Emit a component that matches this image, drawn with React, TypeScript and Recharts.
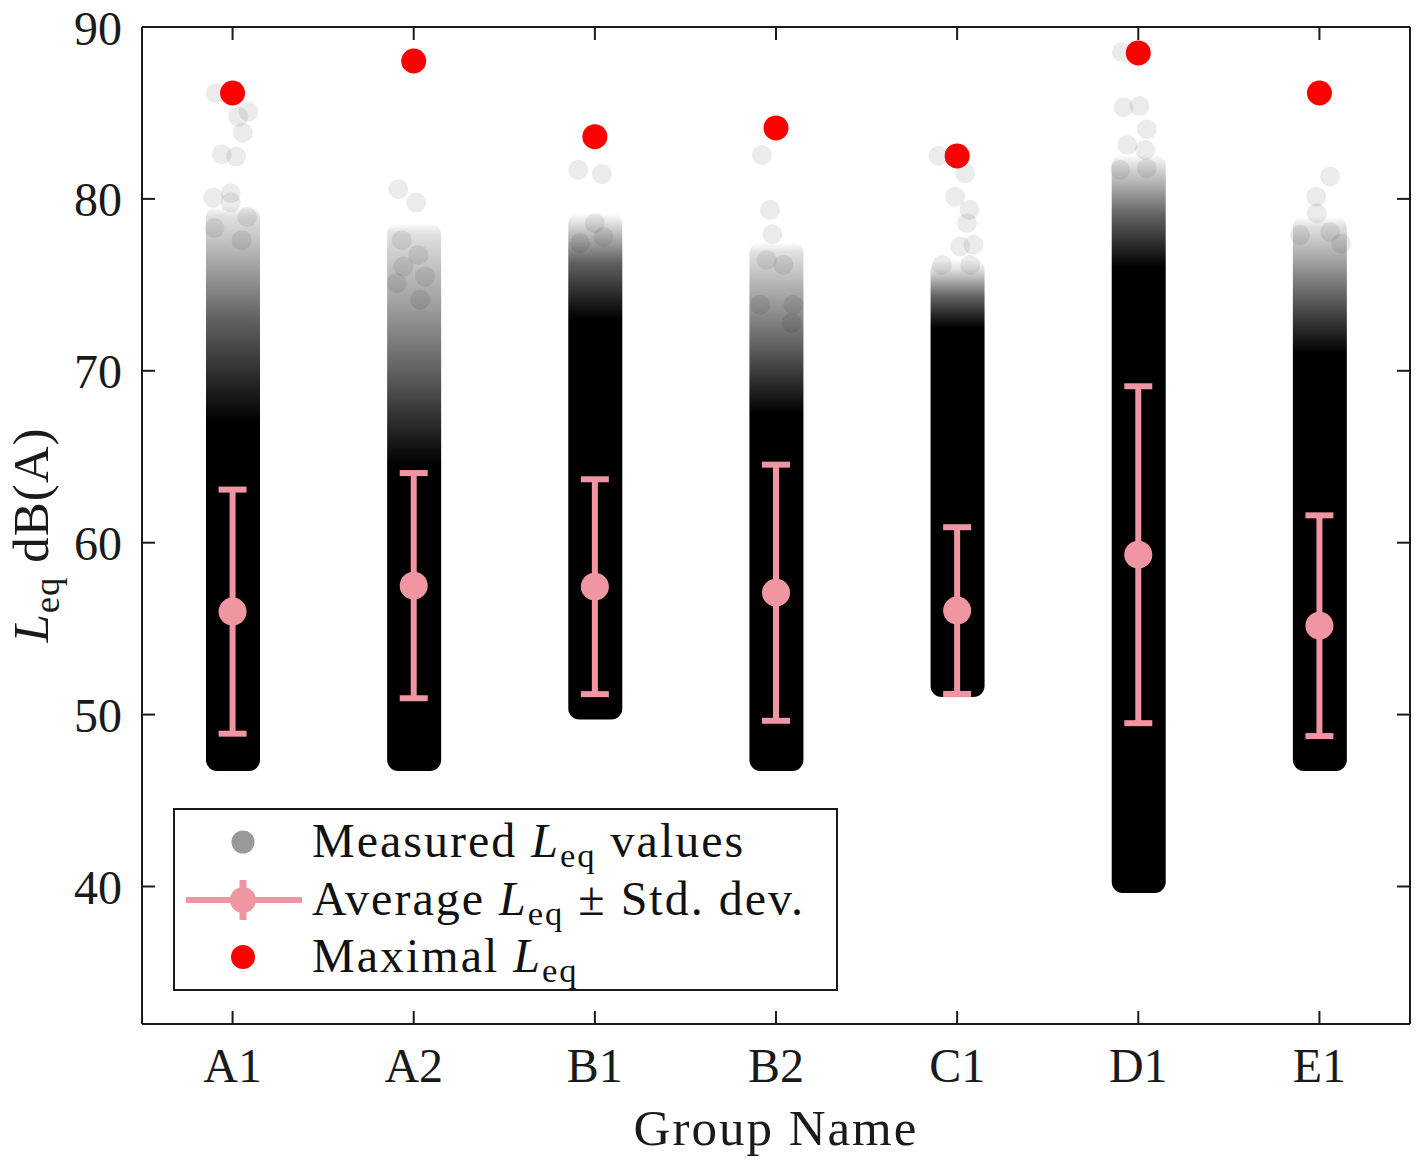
import React from 'react'
import {
  ComposedChart,
  Bar,
  Scatter,
  ErrorBar,
  XAxis,
  YAxis,
  Legend,
} from 'recharts'

// groups on the x axis
const groups = ['A1', 'A2', 'B1', 'B2', 'C1', 'D1', 'E1']

// average Leq and standard deviation per group
const meanLeq = [55.99, 57.5, 57.44, 57.09, 56.05, 59.3, 55.17]
const stdLeq = [7.1, 6.55, 6.25, 7.45, 4.85, 9.8, 6.42]

// maximal Leq per group
const maxLeq = [86.16, 88.02, 83.62, 84.13, 82.5, 88.49, 86.16]

// dense part of the measured clouds: lowest value, where it starts to show,
// where it is half dark, where it is fully dark
const cloudMin = [47.3, 47.3, 50.3, 47.3, 51.6, 40.2, 47.3]
const cloudTop = [79.0, 78.0, 78.6, 76.9, 75.9, 82.0, 78.4]
const cloudHalf = [73.0, 70.0, 76.3, 71.5, 74.3, 79.0, 74.3]
const cloudSolid = [67.0, 64.5, 73.0, 67.5, 72.5, 76.0, 71.0]

// sparse measured values above the dense cloud: [jitter, Leq]
const outA1 = [
  [-0.092, 86.15], [0.087, 85.08], [0.031, 84.78], [0.056, 83.85],
  [-0.06, 82.6], [0.019, 82.46], [-0.107, 80.08], [-0.01, 80.33],
  [-0.01, 79.8], [0.081, 78.94], [-0.1, 78.3], [0.05, 77.6],
]
const outA2 = [
  [-0.085, 80.56], [0.013, 79.79], [-0.066, 77.6], [0.025, 76.74],
  [-0.057, 76.06], [0.062, 75.48], [-0.094, 75.1], [0.035, 74.13],
]
const outB1 = [
  [-0.091, 81.69], [0.038, 81.45], [0.0, 78.59], [0.047, 77.8],
  [-0.082, 77.42],
]
const outB2 = [
  [-0.078, 82.56], [-0.033, 79.36], [-0.02, 77.95], [-0.051, 76.45],
  [0.041, 76.16], [-0.088, 73.84], [0.096, 73.84], [0.087, 72.77],
]
const outC1 = [
  [-0.103, 82.5], [0.044, 81.49], [-0.011, 80.13], [0.068, 79.36],
  [0.054, 78.59], [0.09, 77.33], [0.017, 77.23], [-0.084, 76.16],
  [0.072, 76.16],
]
const outD1 = [
  [-0.091, 88.53], [-0.082, 85.33], [0.007, 85.4], [0.047, 84.05],
  [-0.06, 83.14], [0.038, 82.85], [-0.1, 81.69], [0.047, 81.78],
]
const outE1 = [
  [0.059, 81.3], [-0.018, 80.13], [-0.014, 79.17], [0.059, 78.08],
  [-0.107, 77.9], [0.12, 77.4],
]

const yTicks = [40, 50, 60, 70, 80, 90]

const rows = groups.map((name, i) => ({
  name,
  mean: meanLeq[i],
  std: stdLeq[i],
  max: maxLeq[i],
  min: cloudMin[i],
  top: cloudTop[i],
  half: cloudHalf[i],
  solid: cloudSolid[i],
}))

const outliers = [outA1, outA2, outB1, outB2, outC1, outD1, outE1].flatMap(
  (list, i) => list.map(([dx, y]) => ({ x: i + 1 + dx, y }))
)
const groupPos = groups.map((_, i) => i + 1)

const FONT = "'Liberation Serif', 'DejaVu Serif', serif"
const INK = '#1a1a1a'
const PINK = '#EF96A2'
const RED = '#FF0000'

const CloudShape = (props: any) => {
  const { x, y, width, height, payload, index } = props
  const pad = 10
  const y0 = y - pad
  const h = height + pad * 2
  const at = (v: number) =>
    (y + (height * (payload.top - v)) / (payload.top - payload.min) - y0) / h
  const id = `cloud-${index}`
  return (
    <g>
      <defs>
        <linearGradient id={id} x1="0" y1="0" x2="0" y2="1">
          <stop offset={0} stopColor="#000" stopOpacity={0} />
          <stop offset={at(payload.top)} stopColor="#000" stopOpacity={0.12} />
          <stop offset={at(payload.half)} stopColor="#000" stopOpacity={0.62} />
          <stop offset={at(payload.solid)} stopColor="#000" stopOpacity={1} />
          <stop offset={1} stopColor="#000" stopOpacity={1} />
        </linearGradient>
      </defs>
      <rect x={x} y={y0} width={width} height={h} rx={11} fill={`url(#${id})`} />
    </g>
  )
}

const NoLabel = () => <g />

const Leq = ({ size }: { size: number }) => (
  <>
    <tspan fontStyle="italic">L</tspan>
    <tspan dy={size * 0.21} fontSize={size * 0.72}>eq</tspan>
    <tspan dy={-size * 0.21}> </tspan>
  </>
)

const LegendBox = () => (
  <svg width={665} height={183} style={{ display: 'block' }}>
    <rect x={1} y={1} width={663} height={181} fill="#fff" stroke={INK} strokeWidth={2} />
    <g fontFamily={FONT} fontSize={48} fill="#111" letterSpacing={2}>
      <circle cx={70} cy={34} r={11.5} fill="#999999" />
      <text x={139} y={49}>
        Measured <Leq size={48} />values
      </text>
      <line x1={13} x2={129} y1={92} y2={92} stroke={PINK} strokeWidth={6} />
      <line x1={70} x2={70} y1={72} y2={112} stroke={PINK} strokeWidth={7} />
      <circle cx={70} cy={92} r={13} fill={PINK} />
      <text x={139} y={107}>
        Average <Leq size={48} />± Std. dev.
      </text>
      <circle cx={70} cy={149} r={12} fill={RED} />
      <text x={139} y={164}>
        Maximal <Leq size={48} />
      </text>
    </g>
  </svg>
)

const YLabel = () => (
  <text
    x={48}
    y={535}
    transform="rotate(-90 48 535)"
    textAnchor="middle"
    fontFamily={FONT}
    fontSize={51}
    letterSpacing={1}
    fill={INK}
  >
    <Leq size={51} />dB(A)
  </text>
)

const XLabel = () => (
  <text
    x={776}
    y={1145}
    textAnchor="middle"
    fontFamily={FONT}
    fontSize={51}
    letterSpacing={2}
    fill={INK}
  >
    Group Name
  </text>
)

const tickStyle = { fill: INK, fontSize: 48, fontFamily: FONT }
const edge = { stroke: INK, strokeWidth: 2 }

export default function App() {
  return (
    <div style={{ position: 'absolute', left: 0, top: 0, width: 1418, height: 1162, background: '#fff' }}>
      <ComposedChart
        width={1418}
        height={1162}
        data={rows}
        margin={{ top: 27, right: 8, bottom: 78, left: 62 }}
      >
        <XAxis
          xAxisId="cat"
          dataKey="name"
          type="category"
          allowDuplicatedCategory={false}
          height={60}
          tickLine={false}
          tickSize={0}
          tickMargin={24}
          tick={tickStyle}
          axisLine={edge}
          label={<XLabel />}
        />
        <XAxis
          xAxisId="num"
          dataKey="x"
          type="number"
          domain={[0.5, 7.5]}
          allowDataOverflow
          hide
        />
        <XAxis
          xAxisId="tickBottom"
          dataKey="x"
          type="number"
          domain={[0.5, 7.5]}
          ticks={groupPos}
          allowDataOverflow
          mirror
          tick={<NoLabel />}
          tickSize={13}
          axisLine={false}
          tickLine={edge}
        />
        <XAxis
          xAxisId="tickTop"
          dataKey="x"
          orientation="top"
          type="number"
          domain={[0.5, 7.5]}
          ticks={groupPos}
          allowDataOverflow
          mirror
          tick={<NoLabel />}
          tickSize={13}
          axisLine={edge}
          tickLine={edge}
        />
        <YAxis
          yAxisId="y"
          type="number"
          domain={[32, 90]}
          ticks={yTicks}
          allowDataOverflow
          width={80}
          tickLine={false}
          tickSize={0}
          tickMargin={20}
          tick={tickStyle}
          axisLine={edge}
          label={<YLabel />}
        />
        <YAxis
          yAxisId="tickLeft"
          type="number"
          domain={[32, 90]}
          ticks={yTicks}
          allowDataOverflow
          mirror
          tick={<NoLabel />}
          tickSize={13}
          axisLine={false}
          tickLine={edge}
        />
        <YAxis
          yAxisId="tickRight"
          orientation="right"
          type="number"
          domain={[32, 90]}
          ticks={yTicks}
          allowDataOverflow
          mirror
          tick={<NoLabel />}
          tickSize={13}
          axisLine={edge}
          tickLine={edge}
        />

        <Bar
          xAxisId="cat"
          yAxisId="y"
          dataKey={(d: any) => [d.min, d.top]}
          barSize={54}
          shape={<CloudShape />}
          isAnimationActive={false}
          legendType="none"
        />
        <Scatter
          xAxisId="num"
          yAxisId="y"
          data={outliers}
          dataKey="y"
          isAnimationActive={false}
          legendType="none"
          shape={(p: any) => (
            <circle cx={p.cx} cy={p.cy} r={10} fill="#000" fillOpacity={0.08} />
          )}
        />
        <Scatter
          xAxisId="cat"
          yAxisId="y"
          data={rows}
          dataKey="mean"
          name="Average"
          isAnimationActive={false}
          shape={(p: any) => <circle cx={p.cx} cy={p.cy} r={14} fill={PINK} />}
        >
          <ErrorBar dataKey="std" direction="y" width={14} stroke={PINK} strokeWidth={6} />
        </Scatter>
        <Scatter
          xAxisId="cat"
          yAxisId="y"
          data={rows}
          dataKey="max"
          name="Maximal"
          isAnimationActive={false}
          shape={(p: any) => <circle cx={p.cx} cy={p.cy} r={12.5} fill={RED} />}
        />
        <Legend
          layout="vertical"
          align="center"
          verticalAlign="middle"
          content={<LegendBox />}
          wrapperStyle={{ left: 173, top: 808, width: 665, height: 183 }}
        />
      </ComposedChart>
    </div>
  )
}
